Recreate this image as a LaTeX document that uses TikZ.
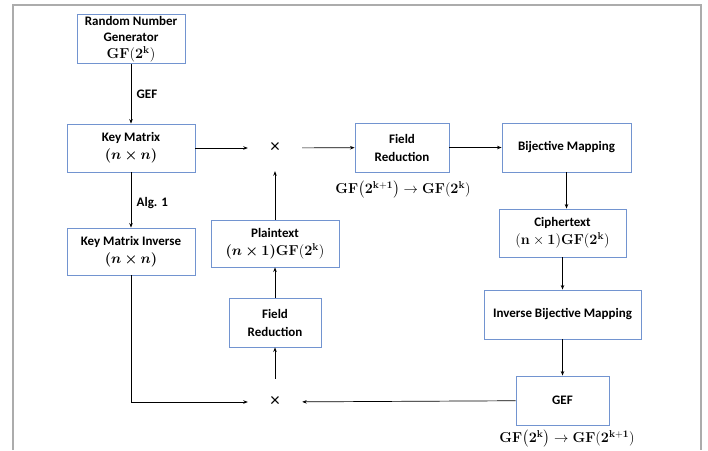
\documentclass[tikz,border=0pt]{standalone}
\usepackage{amsmath,bm}
\usepackage[no-math]{fontspec}
\setmainfont{Carlito}
\usetikzlibrary{positioning,arrows.meta}

\definecolor{boxblue}{RGB}{114,148,208}
\definecolor{framegray}{RGB}{172,172,172}
\newcommand{\bigmath}[1]{{\fontsize{14.5}{18}\selectfont$#1$}}

\begin{document}
\begin{tikzpicture}[x=1pt,y=-1pt,
  box/.style={draw=boxblue,line width=0.9pt,align=center,inner sep=2pt,
    font=\fontsize{13}{18}\selectfont\bfseries},
  mult/.style={inner sep=0pt,minimum width=54pt,minimum height=46pt,
    font=\fontsize{19}{19}\selectfont},
  arr/.style={-{Stealth[length=4.5pt,width=3.5pt]},line width=0.7pt},
  lbl/.style={font=\fontsize{13}{15}\selectfont\bfseries},
  map/.style={font=\fontsize{14.5}{16}\selectfont}]
 \useasboundingbox (0,0) rectangle (708,450);
 \draw[framegray,line width=2pt] (13,450) -- (13,5) -- (701,5) -- (701,450);

 % left column
 \node[box,minimum width=108pt,minimum height=48pt,
   font=\fontsize{13}{16.5}\selectfont\bfseries] (rng) at (131,39)
  {Random Number\\Generator\\\bigmath{\mathbf{GF(2^{k})}}};
 \node[box,minimum width=128pt,minimum height=48pt] (key) at (131,148)
  {Key Matrix\\\bigmath{\bm{(n\times n)}}};
 \node[box,minimum width=128pt,minimum height=47pt] (keyinv) at (131,251.5)
  {Key Matrix Inverse\\\bigmath{\bm{(n\times n)}}};

 % middle column
 \node[mult] (multtop) at (275,148) {×};
 \node[box,minimum width=128pt,minimum height=47pt] (plain) at (275,243.5)
  {Plaintext\\\bigmath{\bm{(n\times 1)}\mathbf{GF(2^{k})}}};
 \node[box,minimum width=92pt,minimum height=49pt] (fieldbot) at (275,322.5)
  {Field\\Reduction};
 \node[mult] (multbot) at (275,402) {×};

 % right part
 \node[box,minimum width=94pt,minimum height=49pt] (fieldtop) at (402,147.5)
  {Field\\Reduction};
 \node[map] (redmap) at (403,190)
  {$\mathbf{GF\bigl(2^{k+1}\bigr)\rightarrow GF(2^{k})}$};
 \node[box,minimum width=129pt,minimum height=49pt] (bij) at (566.5,147.5)
  {Bijective Mapping};
 \node[box,minimum width=127pt,minimum height=48pt] (cipher) at (562.5,233)
  {Ciphertext\\\bigmath{\mathbf{(n\times 1)GF(2^{k})}}};
 \node[box,minimum width=157pt,minimum height=49pt] (invbij) at (562.5,314.5)
  {Inverse Bijective Mapping};
 \node[box,minimum width=93pt,minimum height=49pt] (gef) at (562.5,400.5) {GEF};
 \node[map] (extmap) at (567,439)
  {$\mathbf{GF\bigl(2^{k}\bigr)\rightarrow GF(2^{k+1})}$};

 \draw[arr] (rng) -- node[lbl,right=2pt] {GEF} (key);
 \draw[arr] (key) -- node[lbl,right=2pt,pos=0.55] {Alg. 1} (keyinv);
 \draw[arr] (key) -- (multtop);
 \draw[arr] (multtop) -- (fieldtop);
 \draw[arr] (fieldtop) -- (bij);
 \draw[arr] (bij) -- (bij |- cipher.north);
 \draw[arr] (cipher) -- (invbij);
 \draw[arr] (invbij) -- (gef);
 \draw[arr] (gef) -- (multbot);
 \draw[arr] (keyinv) |- (multbot);
 \draw[arr] (multbot) -- (fieldbot);
 \draw[arr] (fieldbot) -- (plain);
 \draw[arr] (plain) -- (multtop);
\end{tikzpicture}
\end{document}
